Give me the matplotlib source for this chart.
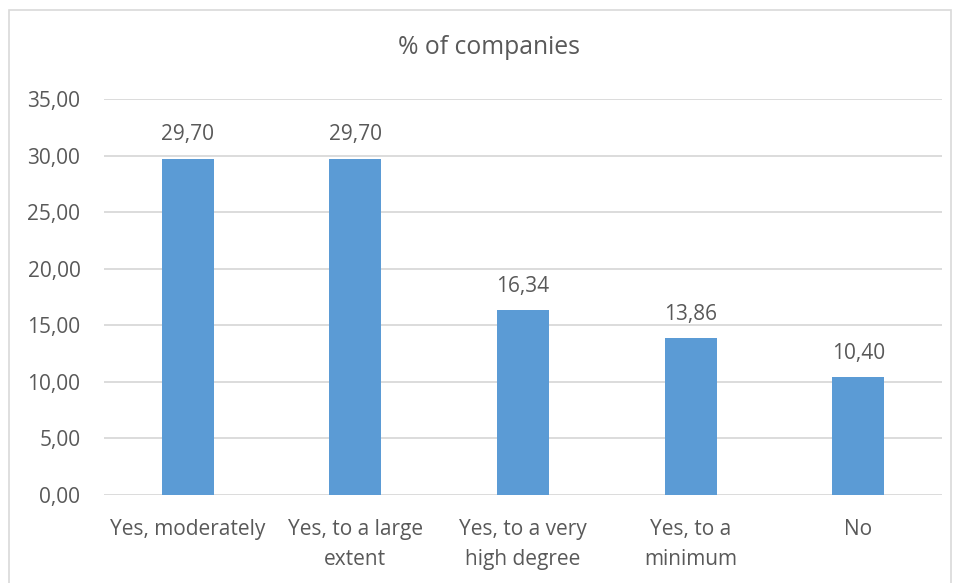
import matplotlib.pyplot as plt
from matplotlib.patches import Rectangle

categories = ["Yes, moderately", "Yes, to a large\nextent", "Yes, to a very\nhigh degree",
              "Yes, to a\nminimum", "No"]
values = [29.70, 29.70, 16.34, 13.86, 10.40]
yticks = [0, 5, 10, 15, 20, 25, 30, 35]

plt.rcParams['font.family'] = ['Open Sans', 'DejaVu Sans']
text_color = '#595959'

fig = plt.figure(figsize=(9.58, 5.83), dpi=100)
# outer chart frame
fig.patches.append(Rectangle((9 / 958, -0.01), 942 / 958, 1 - 10 / 583 + 0.01,
                             transform=fig.transFigure, fill=False,
                             edgecolor='#D9D9D9', linewidth=1.2))

ax = fig.add_axes([104 / 958, 1 - 495 / 583, 838 / 958, 396 / 583])
x = range(len(categories))
bars = ax.bar(x, values, width=0.31, color='#5B9BD5', zorder=3)

ax.set_ylim(0, 35)
ax.set_xlim(-0.5, len(categories) - 0.5)
ax.set_yticks(yticks)
ax.set_yticklabels([f"{v:.2f}".replace('.', ',') for v in yticks])
ax.set_xticks(list(x))
ax.set_xticklabels(categories, linespacing=1.55)
ax.tick_params(axis='both', length=0, labelsize=15, colors=text_color)
ax.tick_params(axis='y', pad=17)
ax.tick_params(axis='x', pad=17.5)
ax.grid(axis='y', color='#D9D9D9', linewidth=1.3, zorder=0)
for s in ax.spines.values():
    s.set_visible(False)

for b, v in zip(bars, values):
    ax.text(b.get_x() + b.get_width() / 2, v + 1.2, f"{v:.2f}".replace('.', ','),
            ha='center', va='bottom', fontsize=15, color=text_color)

fig.text(489 / 958, 1 - 48 / 583, "% of companies", ha='center', va='center',
         fontsize=17.8, color=text_color)

fig.savefig('out.png', dpi=100)
